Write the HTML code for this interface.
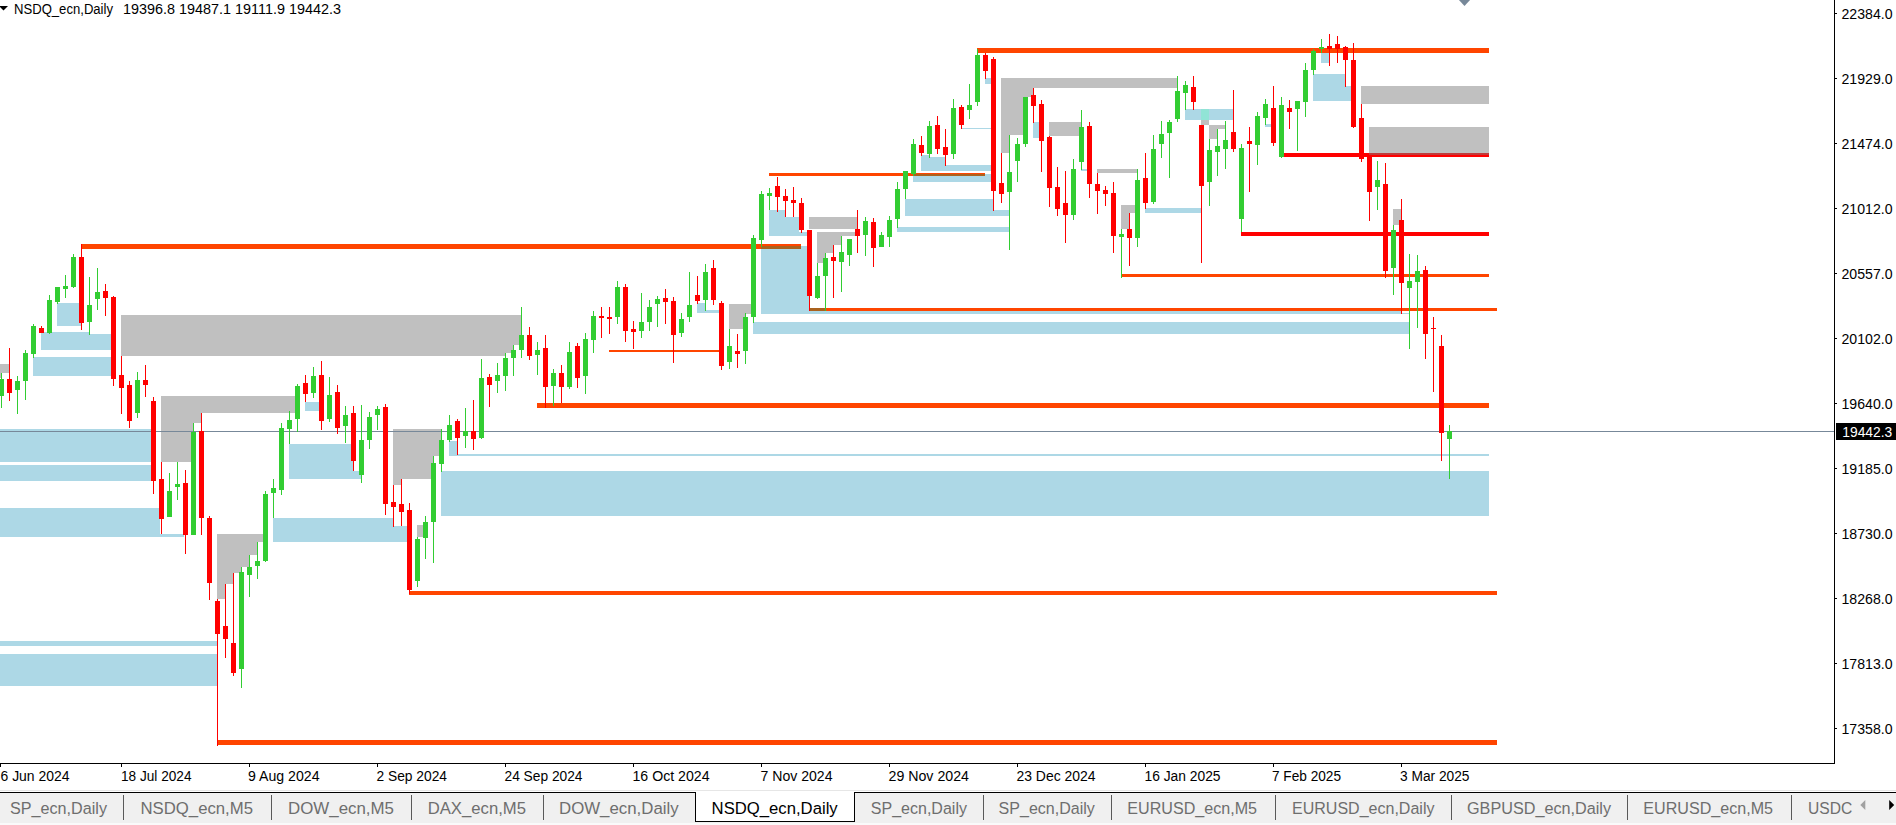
<!DOCTYPE html>
<html><head><meta charset="utf-8"><title>NSDQ_ecn,Daily</title>
<style>
html,body{margin:0;padding:0;background:#fff;overflow:hidden}
svg{display:block}
text{font-family:"Liberation Sans",sans-serif;}
</style></head><body>
<svg width="1896" height="825" viewBox="0 0 1896 825">
<rect x="0" y="0" width="1896" height="825" fill="#fff"/>
<g shape-rendering="crispEdges">
<rect x="57" y="303" width="24" height="23" fill="#ADD8E6"/>
<rect x="41" y="332" width="48" height="18" fill="#ADD8E6"/>
<rect x="89" y="334" width="22" height="16" fill="#ADD8E6"/>
<rect x="33" y="357" width="78" height="19" fill="#ADD8E6"/>
<rect x="0" y="429" width="151" height="33" fill="#ADD8E6"/>
<rect x="0" y="465" width="151" height="16" fill="#ADD8E6"/>
<rect x="0" y="508" width="160" height="29" fill="#ADD8E6"/>
<rect x="160" y="534" width="24" height="3" fill="#ADD8E6"/>
<rect x="0" y="641" width="217" height="5" fill="#ADD8E6"/>
<rect x="0" y="654" width="217" height="32" fill="#ADD8E6"/>
<rect x="273" y="518" width="120" height="24" fill="#ADD8E6"/>
<rect x="393" y="526" width="14" height="16" fill="#ADD8E6"/>
<rect x="305" y="402" width="14" height="9" fill="#ADD8E6"/>
<rect x="289" y="444" width="64" height="35" fill="#ADD8E6"/>
<rect x="353" y="471" width="8" height="8" fill="#ADD8E6"/>
<rect x="449" y="441" width="9" height="15" fill="#ADD8E6"/>
<rect x="458" y="454" width="1031" height="2" fill="#ADD8E6"/>
<rect x="441" y="471" width="1048" height="45" fill="#ADD8E6"/>
<rect x="697" y="303" width="9" height="10" fill="#ADD8E6"/>
<rect x="706" y="310" width="13" height="3" fill="#ADD8E6"/>
<rect x="769" y="210" width="16" height="26" fill="#ADD8E6"/>
<rect x="785" y="217" width="14" height="19" fill="#ADD8E6"/>
<rect x="799" y="232" width="8" height="4" fill="#ADD8E6"/>
<rect x="761" y="246" width="48" height="65" fill="#ADD8E6"/>
<rect x="761" y="311" width="640" height="3" fill="#ADD8E6"/>
<rect x="1401" y="313" width="8" height="1" fill="#ADD8E6"/>
<rect x="753" y="322" width="656" height="12" fill="#ADD8E6"/>
<rect x="985" y="78" width="6" height="6" fill="#ADD8E6"/>
<rect x="1033" y="122" width="6" height="16" fill="#ADD8E6"/>
<rect x="1081" y="169" width="6" height="2" fill="#ADD8E6"/>
<rect x="962" y="128" width="29" height="1" fill="#ADD8E6"/>
<rect x="921" y="155" width="8" height="16" fill="#ADD8E6"/>
<rect x="929" y="157" width="16" height="14" fill="#ADD8E6"/>
<rect x="945" y="165" width="46" height="6" fill="#ADD8E6"/>
<rect x="913" y="174" width="78" height="8" fill="#ADD8E6"/>
<rect x="905" y="199" width="88" height="17" fill="#ADD8E6"/>
<rect x="993" y="210" width="16" height="6" fill="#ADD8E6"/>
<rect x="897" y="227" width="112" height="5" fill="#ADD8E6"/>
<rect x="1145" y="208" width="56" height="5" fill="#ADD8E6"/>
<rect x="1185" y="109" width="48" height="11" fill="#ADD8E6"/>
<rect x="1265" y="124" width="6" height="3" fill="#ADD8E6"/>
<rect x="1313" y="74" width="32" height="27" fill="#ADD8E6"/>
<rect x="1345" y="86" width="6" height="15" fill="#ADD8E6"/>
<rect x="1321" y="53" width="8" height="10" fill="#ADD8E6"/>
<rect x="0" y="364" width="9" height="9" fill="#C0C0C0"/>
<rect x="0" y="373" width="1" height="5" fill="#C0C0C0"/>
<rect x="121" y="315" width="400" height="30" fill="#C0C0C0"/>
<rect x="121" y="345" width="392" height="8" fill="#C0C0C0"/>
<rect x="121" y="353" width="384" height="3" fill="#C0C0C0"/>
<rect x="161" y="396" width="134" height="17" fill="#C0C0C0"/>
<rect x="161" y="413" width="40" height="10" fill="#C0C0C0"/>
<rect x="161" y="423" width="32" height="39" fill="#C0C0C0"/>
<rect x="217" y="534" width="46" height="8" fill="#C0C0C0"/>
<rect x="217" y="542" width="40" height="13" fill="#C0C0C0"/>
<rect x="217" y="555" width="32" height="12" fill="#C0C0C0"/>
<rect x="217" y="567" width="24" height="6" fill="#C0C0C0"/>
<rect x="217" y="573" width="16" height="11" fill="#C0C0C0"/>
<rect x="217" y="584" width="8" height="15" fill="#C0C0C0"/>
<rect x="393" y="429" width="48" height="27" fill="#C0C0C0"/>
<rect x="393" y="456" width="40" height="23" fill="#C0C0C0"/>
<rect x="393" y="479" width="8" height="6" fill="#C0C0C0"/>
<rect x="417" y="525" width="6" height="12" fill="#C0C0C0"/>
<rect x="729" y="304" width="22" height="10" fill="#C0C0C0"/>
<rect x="729" y="314" width="16" height="15" fill="#C0C0C0"/>
<rect x="809" y="217" width="48" height="12" fill="#C0C0C0"/>
<rect x="817" y="232" width="38" height="4" fill="#C0C0C0"/>
<rect x="817" y="236" width="24" height="9" fill="#C0C0C0"/>
<rect x="817" y="245" width="16" height="8" fill="#C0C0C0"/>
<rect x="817" y="253" width="8" height="10" fill="#C0C0C0"/>
<rect x="1001" y="78" width="176" height="10" fill="#C0C0C0"/>
<rect x="1001" y="88" width="32" height="9" fill="#C0C0C0"/>
<rect x="1001" y="97" width="24" height="38" fill="#C0C0C0"/>
<rect x="1001" y="135" width="8" height="18" fill="#C0C0C0"/>
<rect x="1049" y="122" width="32" height="14" fill="#C0C0C0"/>
<rect x="1097" y="169" width="40" height="4" fill="#C0C0C0"/>
<rect x="1121" y="205" width="16" height="8" fill="#C0C0C0"/>
<rect x="1121" y="213" width="8" height="16" fill="#C0C0C0"/>
<rect x="1201" y="120" width="8" height="5" fill="#C0C0C0"/>
<rect x="1209" y="125" width="16" height="4" fill="#C0C0C0"/>
<rect x="1209" y="129" width="8" height="10" fill="#C0C0C0"/>
<rect x="1361" y="86" width="128" height="18" fill="#C0C0C0"/>
<rect x="1369" y="127" width="120" height="26" fill="#C0C0C0"/>
<rect x="1393" y="209" width="8" height="16" fill="#C0C0C0"/>
<rect x="1201" y="109" width="8" height="11" fill="#91E4D6"/>
<rect x="81" y="244" width="720" height="5" fill="#FF4500"/>
<rect x="761" y="246" width="40" height="3" fill="#AA621E"/>
<rect x="977" y="48" width="512" height="5" fill="#FF4500"/>
<rect x="537" y="403" width="952" height="5" fill="#FF4500"/>
<rect x="409" y="591" width="1088" height="4" fill="#FF4500"/>
<rect x="218" y="740" width="1279" height="5" fill="#FF4500"/>
<rect x="769" y="173" width="216" height="3" fill="#FF4500"/>
<rect x="913" y="174" width="72" height="2" fill="#AA621E"/>
<rect x="609" y="350" width="111" height="2" fill="#FF4500"/>
<rect x="809" y="308" width="688" height="3" fill="#FF4500"/>
<rect x="809" y="308" width="16" height="3" fill="#AA621E"/>
<rect x="1122" y="274" width="367" height="3" fill="#FF4500"/>
<rect x="1283" y="153" width="206" height="4" fill="#FF0000"/>
<rect x="1369" y="153" width="120" height="2" fill="#C03A3A"/>
<rect x="1241" y="232" width="248" height="4" fill="#FF0000"/>
<rect x="0" y="431" width="1835" height="1" fill="#778899"/>
<rect x="1" y="373" width="1" height="35" fill="#32CD32"/>
<rect x="-1" y="379" width="5" height="17" fill="#32CD32"/>
<rect x="9" y="348" width="1" height="53" fill="#FF0000"/>
<rect x="7" y="379" width="5" height="14" fill="#FF0000"/>
<rect x="17" y="376" width="1" height="38" fill="#32CD32"/>
<rect x="15" y="381" width="5" height="9" fill="#32CD32"/>
<rect x="25" y="350" width="1" height="50" fill="#32CD32"/>
<rect x="23" y="353" width="5" height="28" fill="#32CD32"/>
<rect x="33" y="324" width="1" height="34" fill="#32CD32"/>
<rect x="31" y="326" width="5" height="28" fill="#32CD32"/>
<rect x="41" y="326" width="1" height="7" fill="#FF0000"/>
<rect x="39" y="328" width="5" height="5" fill="#FF0000"/>
<rect x="49" y="295" width="1" height="39" fill="#32CD32"/>
<rect x="47" y="300" width="5" height="33" fill="#32CD32"/>
<rect x="57" y="287" width="1" height="17" fill="#32CD32"/>
<rect x="55" y="287" width="5" height="15" fill="#32CD32"/>
<rect x="65" y="275" width="1" height="23" fill="#32CD32"/>
<rect x="63" y="286" width="5" height="3" fill="#32CD32"/>
<rect x="73" y="254" width="1" height="34" fill="#32CD32"/>
<rect x="71" y="257" width="5" height="30" fill="#32CD32"/>
<rect x="81" y="244" width="1" height="86" fill="#FF0000"/>
<rect x="79" y="257" width="5" height="66" fill="#FF0000"/>
<rect x="89" y="277" width="1" height="58" fill="#32CD32"/>
<rect x="87" y="305" width="5" height="17" fill="#32CD32"/>
<rect x="97" y="268" width="1" height="42" fill="#32CD32"/>
<rect x="95" y="292" width="5" height="7" fill="#32CD32"/>
<rect x="105" y="284" width="1" height="32" fill="#FF0000"/>
<rect x="103" y="291" width="5" height="7" fill="#FF0000"/>
<rect x="113" y="296" width="1" height="90" fill="#FF0000"/>
<rect x="111" y="297" width="5" height="82" fill="#FF0000"/>
<rect x="121" y="356" width="1" height="58" fill="#FF0000"/>
<rect x="119" y="375" width="5" height="13" fill="#FF0000"/>
<rect x="129" y="381" width="1" height="47" fill="#FF0000"/>
<rect x="127" y="385" width="5" height="36" fill="#FF0000"/>
<rect x="137" y="372" width="1" height="46" fill="#32CD32"/>
<rect x="135" y="380" width="5" height="33" fill="#32CD32"/>
<rect x="145" y="365" width="1" height="32" fill="#FF0000"/>
<rect x="143" y="380" width="5" height="5" fill="#FF0000"/>
<rect x="153" y="397" width="1" height="97" fill="#FF0000"/>
<rect x="151" y="401" width="5" height="80" fill="#FF0000"/>
<rect x="161" y="462" width="1" height="72" fill="#FF0000"/>
<rect x="159" y="479" width="5" height="40" fill="#FF0000"/>
<rect x="169" y="473" width="1" height="44" fill="#32CD32"/>
<rect x="167" y="491" width="5" height="26" fill="#32CD32"/>
<rect x="177" y="462" width="1" height="38" fill="#32CD32"/>
<rect x="175" y="484" width="5" height="3" fill="#32CD32"/>
<rect x="185" y="470" width="1" height="84" fill="#FF0000"/>
<rect x="183" y="483" width="5" height="52" fill="#FF0000"/>
<rect x="193" y="423" width="1" height="112" fill="#32CD32"/>
<rect x="191" y="432" width="5" height="103" fill="#32CD32"/>
<rect x="201" y="413" width="1" height="122" fill="#FF0000"/>
<rect x="199" y="431" width="5" height="87" fill="#FF0000"/>
<rect x="209" y="516" width="1" height="84" fill="#FF0000"/>
<rect x="207" y="518" width="5" height="65" fill="#FF0000"/>
<rect x="217" y="599" width="1" height="147" fill="#FF0000"/>
<rect x="215" y="601" width="5" height="33" fill="#FF0000"/>
<rect x="225" y="584" width="1" height="74" fill="#FF0000"/>
<rect x="223" y="626" width="5" height="13" fill="#FF0000"/>
<rect x="233" y="573" width="1" height="103" fill="#FF0000"/>
<rect x="231" y="643" width="5" height="30" fill="#FF0000"/>
<rect x="241" y="567" width="1" height="121" fill="#32CD32"/>
<rect x="239" y="572" width="5" height="97" fill="#32CD32"/>
<rect x="249" y="555" width="1" height="42" fill="#32CD32"/>
<rect x="247" y="567" width="5" height="8" fill="#32CD32"/>
<rect x="257" y="542" width="1" height="37" fill="#32CD32"/>
<rect x="255" y="561" width="5" height="5" fill="#32CD32"/>
<rect x="265" y="491" width="1" height="71" fill="#32CD32"/>
<rect x="263" y="494" width="5" height="67" fill="#32CD32"/>
<rect x="273" y="479" width="1" height="39" fill="#32CD32"/>
<rect x="271" y="488" width="5" height="5" fill="#32CD32"/>
<rect x="281" y="423" width="1" height="72" fill="#32CD32"/>
<rect x="279" y="428" width="5" height="62" fill="#32CD32"/>
<rect x="289" y="411" width="1" height="33" fill="#32CD32"/>
<rect x="287" y="420" width="5" height="9" fill="#32CD32"/>
<rect x="297" y="384" width="1" height="48" fill="#32CD32"/>
<rect x="295" y="386" width="5" height="33" fill="#32CD32"/>
<rect x="305" y="375" width="1" height="27" fill="#FF0000"/>
<rect x="303" y="383" width="5" height="11" fill="#FF0000"/>
<rect x="313" y="367" width="1" height="31" fill="#32CD32"/>
<rect x="311" y="376" width="5" height="17" fill="#32CD32"/>
<rect x="321" y="361" width="1" height="69" fill="#FF0000"/>
<rect x="319" y="375" width="5" height="46" fill="#FF0000"/>
<rect x="329" y="377" width="1" height="45" fill="#32CD32"/>
<rect x="327" y="395" width="5" height="24" fill="#32CD32"/>
<rect x="337" y="385" width="1" height="49" fill="#FF0000"/>
<rect x="335" y="392" width="5" height="36" fill="#FF0000"/>
<rect x="345" y="406" width="1" height="37" fill="#32CD32"/>
<rect x="343" y="415" width="5" height="11" fill="#32CD32"/>
<rect x="353" y="406" width="1" height="65" fill="#FF0000"/>
<rect x="351" y="413" width="5" height="48" fill="#FF0000"/>
<rect x="361" y="405" width="1" height="78" fill="#32CD32"/>
<rect x="359" y="440" width="5" height="35" fill="#32CD32"/>
<rect x="369" y="412" width="1" height="37" fill="#32CD32"/>
<rect x="367" y="417" width="5" height="23" fill="#32CD32"/>
<rect x="377" y="406" width="1" height="24" fill="#32CD32"/>
<rect x="375" y="409" width="5" height="6" fill="#32CD32"/>
<rect x="385" y="404" width="1" height="111" fill="#FF0000"/>
<rect x="383" y="407" width="5" height="97" fill="#FF0000"/>
<rect x="393" y="485" width="1" height="42" fill="#FF0000"/>
<rect x="391" y="502" width="5" height="5" fill="#FF0000"/>
<rect x="401" y="479" width="1" height="47" fill="#FF0000"/>
<rect x="399" y="504" width="5" height="8" fill="#FF0000"/>
<rect x="409" y="503" width="1" height="91" fill="#FF0000"/>
<rect x="407" y="510" width="5" height="80" fill="#FF0000"/>
<rect x="417" y="537" width="1" height="50" fill="#32CD32"/>
<rect x="415" y="539" width="5" height="42" fill="#32CD32"/>
<rect x="425" y="516" width="1" height="43" fill="#32CD32"/>
<rect x="423" y="522" width="5" height="16" fill="#32CD32"/>
<rect x="433" y="456" width="1" height="107" fill="#32CD32"/>
<rect x="431" y="463" width="5" height="59" fill="#32CD32"/>
<rect x="441" y="429" width="1" height="43" fill="#32CD32"/>
<rect x="439" y="440" width="5" height="24" fill="#32CD32"/>
<rect x="449" y="415" width="1" height="27" fill="#32CD32"/>
<rect x="447" y="425" width="5" height="15" fill="#32CD32"/>
<rect x="457" y="419" width="1" height="36" fill="#FF0000"/>
<rect x="455" y="421" width="5" height="17" fill="#FF0000"/>
<rect x="465" y="408" width="1" height="40" fill="#32CD32"/>
<rect x="463" y="431" width="5" height="5" fill="#32CD32"/>
<rect x="473" y="400" width="1" height="50" fill="#FF0000"/>
<rect x="471" y="431" width="5" height="8" fill="#FF0000"/>
<rect x="481" y="359" width="1" height="80" fill="#32CD32"/>
<rect x="479" y="378" width="5" height="60" fill="#32CD32"/>
<rect x="489" y="374" width="1" height="33" fill="#FF0000"/>
<rect x="487" y="377" width="5" height="8" fill="#FF0000"/>
<rect x="497" y="363" width="1" height="30" fill="#32CD32"/>
<rect x="495" y="375" width="5" height="6" fill="#32CD32"/>
<rect x="505" y="353" width="1" height="38" fill="#32CD32"/>
<rect x="503" y="358" width="5" height="18" fill="#32CD32"/>
<rect x="513" y="345" width="1" height="31" fill="#32CD32"/>
<rect x="511" y="350" width="5" height="8" fill="#32CD32"/>
<rect x="521" y="307" width="1" height="51" fill="#32CD32"/>
<rect x="519" y="335" width="5" height="15" fill="#32CD32"/>
<rect x="529" y="327" width="1" height="33" fill="#FF0000"/>
<rect x="527" y="335" width="5" height="21" fill="#FF0000"/>
<rect x="537" y="342" width="1" height="33" fill="#32CD32"/>
<rect x="535" y="350" width="5" height="5" fill="#32CD32"/>
<rect x="545" y="335" width="1" height="73" fill="#FF0000"/>
<rect x="543" y="348" width="5" height="39" fill="#FF0000"/>
<rect x="553" y="369" width="1" height="37" fill="#32CD32"/>
<rect x="551" y="373" width="5" height="13" fill="#32CD32"/>
<rect x="561" y="365" width="1" height="38" fill="#FF0000"/>
<rect x="559" y="373" width="5" height="14" fill="#FF0000"/>
<rect x="569" y="342" width="1" height="47" fill="#32CD32"/>
<rect x="567" y="352" width="5" height="35" fill="#32CD32"/>
<rect x="577" y="343" width="1" height="45" fill="#FF0000"/>
<rect x="575" y="346" width="5" height="32" fill="#FF0000"/>
<rect x="585" y="333" width="1" height="61" fill="#32CD32"/>
<rect x="583" y="339" width="5" height="37" fill="#32CD32"/>
<rect x="593" y="311" width="1" height="42" fill="#32CD32"/>
<rect x="591" y="316" width="5" height="24" fill="#32CD32"/>
<rect x="601" y="307" width="1" height="31" fill="#FF0000"/>
<rect x="599" y="316" width="5" height="2" fill="#FF0000"/>
<rect x="609" y="307" width="1" height="27" fill="#FF0000"/>
<rect x="607" y="317" width="5" height="2" fill="#FF0000"/>
<rect x="617" y="281" width="1" height="43" fill="#32CD32"/>
<rect x="615" y="287" width="5" height="30" fill="#32CD32"/>
<rect x="625" y="284" width="1" height="58" fill="#FF0000"/>
<rect x="623" y="287" width="5" height="44" fill="#FF0000"/>
<rect x="633" y="321" width="1" height="28" fill="#FF0000"/>
<rect x="631" y="329" width="5" height="3" fill="#FF0000"/>
<rect x="641" y="293" width="1" height="45" fill="#32CD32"/>
<rect x="639" y="322" width="5" height="9" fill="#32CD32"/>
<rect x="649" y="300" width="1" height="31" fill="#32CD32"/>
<rect x="647" y="307" width="5" height="15" fill="#32CD32"/>
<rect x="657" y="296" width="1" height="31" fill="#32CD32"/>
<rect x="655" y="299" width="5" height="5" fill="#32CD32"/>
<rect x="665" y="289" width="1" height="35" fill="#FF0000"/>
<rect x="663" y="298" width="5" height="4" fill="#FF0000"/>
<rect x="673" y="297" width="1" height="66" fill="#FF0000"/>
<rect x="671" y="301" width="5" height="34" fill="#FF0000"/>
<rect x="681" y="313" width="1" height="24" fill="#32CD32"/>
<rect x="679" y="319" width="5" height="14" fill="#32CD32"/>
<rect x="689" y="272" width="1" height="50" fill="#32CD32"/>
<rect x="687" y="305" width="5" height="12" fill="#32CD32"/>
<rect x="697" y="276" width="1" height="28" fill="#FF0000"/>
<rect x="695" y="295" width="5" height="6" fill="#FF0000"/>
<rect x="705" y="264" width="1" height="47" fill="#32CD32"/>
<rect x="703" y="272" width="5" height="28" fill="#32CD32"/>
<rect x="713" y="260" width="1" height="45" fill="#FF0000"/>
<rect x="711" y="268" width="5" height="32" fill="#FF0000"/>
<rect x="721" y="301" width="1" height="69" fill="#FF0000"/>
<rect x="719" y="303" width="5" height="63" fill="#FF0000"/>
<rect x="729" y="329" width="1" height="40" fill="#32CD32"/>
<rect x="727" y="346" width="5" height="16" fill="#32CD32"/>
<rect x="737" y="334" width="1" height="34" fill="#FF0000"/>
<rect x="735" y="351" width="5" height="3" fill="#FF0000"/>
<rect x="745" y="313" width="1" height="51" fill="#32CD32"/>
<rect x="743" y="317" width="5" height="34" fill="#32CD32"/>
<rect x="753" y="235" width="1" height="88" fill="#32CD32"/>
<rect x="751" y="238" width="5" height="79" fill="#32CD32"/>
<rect x="761" y="191" width="1" height="56" fill="#32CD32"/>
<rect x="759" y="194" width="5" height="46" fill="#32CD32"/>
<rect x="769" y="188" width="1" height="22" fill="#32CD32"/>
<rect x="767" y="193" width="5" height="3" fill="#32CD32"/>
<rect x="777" y="177" width="1" height="35" fill="#FF0000"/>
<rect x="775" y="186" width="5" height="11" fill="#FF0000"/>
<rect x="785" y="189" width="1" height="28" fill="#FF0000"/>
<rect x="783" y="196" width="5" height="5" fill="#FF0000"/>
<rect x="793" y="187" width="1" height="30" fill="#FF0000"/>
<rect x="791" y="200" width="5" height="3" fill="#FF0000"/>
<rect x="801" y="198" width="1" height="35" fill="#FF0000"/>
<rect x="799" y="203" width="5" height="27" fill="#FF0000"/>
<rect x="809" y="230" width="1" height="81" fill="#FF0000"/>
<rect x="807" y="230" width="5" height="66" fill="#FF0000"/>
<rect x="817" y="263" width="1" height="36" fill="#32CD32"/>
<rect x="815" y="276" width="5" height="22" fill="#32CD32"/>
<rect x="825" y="253" width="1" height="58" fill="#32CD32"/>
<rect x="823" y="258" width="5" height="18" fill="#32CD32"/>
<rect x="833" y="245" width="1" height="53" fill="#FF0000"/>
<rect x="831" y="257" width="5" height="4" fill="#FF0000"/>
<rect x="841" y="236" width="1" height="56" fill="#32CD32"/>
<rect x="839" y="252" width="5" height="10" fill="#32CD32"/>
<rect x="849" y="239" width="1" height="27" fill="#32CD32"/>
<rect x="847" y="239" width="5" height="16" fill="#32CD32"/>
<rect x="857" y="210" width="1" height="43" fill="#FF0000"/>
<rect x="855" y="229" width="5" height="7" fill="#FF0000"/>
<rect x="865" y="217" width="1" height="39" fill="#32CD32"/>
<rect x="863" y="221" width="5" height="14" fill="#32CD32"/>
<rect x="873" y="218" width="1" height="49" fill="#FF0000"/>
<rect x="871" y="222" width="5" height="26" fill="#FF0000"/>
<rect x="881" y="232" width="1" height="15" fill="#32CD32"/>
<rect x="879" y="235" width="5" height="12" fill="#32CD32"/>
<rect x="889" y="216" width="1" height="31" fill="#32CD32"/>
<rect x="887" y="220" width="5" height="17" fill="#32CD32"/>
<rect x="897" y="182" width="1" height="46" fill="#32CD32"/>
<rect x="895" y="189" width="5" height="30" fill="#32CD32"/>
<rect x="905" y="171" width="1" height="28" fill="#32CD32"/>
<rect x="903" y="171" width="5" height="18" fill="#32CD32"/>
<rect x="913" y="139" width="1" height="37" fill="#32CD32"/>
<rect x="911" y="144" width="5" height="30" fill="#32CD32"/>
<rect x="921" y="136" width="1" height="20" fill="#FF0000"/>
<rect x="919" y="145" width="5" height="8" fill="#FF0000"/>
<rect x="929" y="121" width="1" height="37" fill="#32CD32"/>
<rect x="927" y="126" width="5" height="28" fill="#32CD32"/>
<rect x="937" y="116" width="1" height="38" fill="#FF0000"/>
<rect x="935" y="125" width="5" height="24" fill="#FF0000"/>
<rect x="945" y="129" width="1" height="37" fill="#FF0000"/>
<rect x="943" y="147" width="5" height="8" fill="#FF0000"/>
<rect x="953" y="99" width="1" height="60" fill="#32CD32"/>
<rect x="951" y="108" width="5" height="46" fill="#32CD32"/>
<rect x="961" y="105" width="1" height="24" fill="#FF0000"/>
<rect x="959" y="107" width="5" height="18" fill="#FF0000"/>
<rect x="969" y="84" width="1" height="35" fill="#32CD32"/>
<rect x="967" y="105" width="5" height="5" fill="#32CD32"/>
<rect x="977" y="49" width="1" height="57" fill="#32CD32"/>
<rect x="975" y="55" width="5" height="47" fill="#32CD32"/>
<rect x="985" y="53" width="1" height="26" fill="#FF0000"/>
<rect x="983" y="55" width="5" height="16" fill="#FF0000"/>
<rect x="993" y="57" width="1" height="154" fill="#FF0000"/>
<rect x="991" y="59" width="5" height="132" fill="#FF0000"/>
<rect x="1001" y="153" width="1" height="50" fill="#FF0000"/>
<rect x="999" y="183" width="5" height="11" fill="#FF0000"/>
<rect x="1009" y="135" width="1" height="115" fill="#32CD32"/>
<rect x="1007" y="172" width="5" height="20" fill="#32CD32"/>
<rect x="1017" y="138" width="1" height="44" fill="#32CD32"/>
<rect x="1015" y="144" width="5" height="17" fill="#32CD32"/>
<rect x="1025" y="97" width="1" height="50" fill="#32CD32"/>
<rect x="1023" y="97" width="5" height="47" fill="#32CD32"/>
<rect x="1033" y="88" width="1" height="35" fill="#FF0000"/>
<rect x="1031" y="95" width="5" height="11" fill="#FF0000"/>
<rect x="1041" y="100" width="1" height="72" fill="#FF0000"/>
<rect x="1039" y="104" width="5" height="37" fill="#FF0000"/>
<rect x="1049" y="136" width="1" height="71" fill="#FF0000"/>
<rect x="1047" y="137" width="5" height="51" fill="#FF0000"/>
<rect x="1057" y="167" width="1" height="49" fill="#FF0000"/>
<rect x="1055" y="187" width="5" height="22" fill="#FF0000"/>
<rect x="1065" y="171" width="1" height="72" fill="#FF0000"/>
<rect x="1063" y="203" width="5" height="12" fill="#FF0000"/>
<rect x="1073" y="159" width="1" height="61" fill="#32CD32"/>
<rect x="1071" y="169" width="5" height="46" fill="#32CD32"/>
<rect x="1081" y="110" width="1" height="60" fill="#32CD32"/>
<rect x="1079" y="127" width="5" height="35" fill="#32CD32"/>
<rect x="1089" y="122" width="1" height="76" fill="#FF0000"/>
<rect x="1087" y="126" width="5" height="58" fill="#FF0000"/>
<rect x="1097" y="173" width="1" height="41" fill="#FF0000"/>
<rect x="1095" y="184" width="5" height="7" fill="#FF0000"/>
<rect x="1105" y="186" width="1" height="20" fill="#FF0000"/>
<rect x="1103" y="190" width="5" height="4" fill="#FF0000"/>
<rect x="1113" y="182" width="1" height="71" fill="#FF0000"/>
<rect x="1111" y="193" width="5" height="43" fill="#FF0000"/>
<rect x="1121" y="229" width="1" height="49" fill="#32CD32"/>
<rect x="1119" y="234" width="5" height="3" fill="#32CD32"/>
<rect x="1129" y="213" width="1" height="53" fill="#FF0000"/>
<rect x="1127" y="229" width="5" height="9" fill="#FF0000"/>
<rect x="1137" y="169" width="1" height="78" fill="#32CD32"/>
<rect x="1135" y="180" width="5" height="58" fill="#32CD32"/>
<rect x="1145" y="153" width="1" height="56" fill="#FF0000"/>
<rect x="1143" y="178" width="5" height="25" fill="#FF0000"/>
<rect x="1153" y="135" width="1" height="69" fill="#32CD32"/>
<rect x="1151" y="149" width="5" height="53" fill="#32CD32"/>
<rect x="1161" y="121" width="1" height="37" fill="#32CD32"/>
<rect x="1159" y="134" width="5" height="10" fill="#32CD32"/>
<rect x="1169" y="120" width="1" height="58" fill="#32CD32"/>
<rect x="1167" y="122" width="5" height="11" fill="#32CD32"/>
<rect x="1177" y="76" width="1" height="46" fill="#32CD32"/>
<rect x="1175" y="91" width="5" height="28" fill="#32CD32"/>
<rect x="1185" y="81" width="1" height="29" fill="#32CD32"/>
<rect x="1183" y="85" width="5" height="8" fill="#32CD32"/>
<rect x="1193" y="76" width="1" height="34" fill="#FF0000"/>
<rect x="1191" y="87" width="5" height="15" fill="#FF0000"/>
<rect x="1201" y="125" width="1" height="138" fill="#FF0000"/>
<rect x="1199" y="125" width="5" height="61" fill="#FF0000"/>
<rect x="1209" y="139" width="1" height="67" fill="#32CD32"/>
<rect x="1207" y="150" width="5" height="32" fill="#32CD32"/>
<rect x="1217" y="129" width="1" height="47" fill="#32CD32"/>
<rect x="1215" y="146" width="5" height="6" fill="#32CD32"/>
<rect x="1225" y="121" width="1" height="48" fill="#32CD32"/>
<rect x="1223" y="140" width="5" height="9" fill="#32CD32"/>
<rect x="1233" y="90" width="1" height="62" fill="#FF0000"/>
<rect x="1231" y="132" width="5" height="17" fill="#FF0000"/>
<rect x="1241" y="144" width="1" height="88" fill="#32CD32"/>
<rect x="1239" y="148" width="5" height="71" fill="#32CD32"/>
<rect x="1249" y="127" width="1" height="65" fill="#FF0000"/>
<rect x="1247" y="141" width="5" height="3" fill="#FF0000"/>
<rect x="1257" y="112" width="1" height="53" fill="#32CD32"/>
<rect x="1255" y="116" width="5" height="29" fill="#32CD32"/>
<rect x="1265" y="99" width="1" height="26" fill="#32CD32"/>
<rect x="1263" y="104" width="5" height="14" fill="#32CD32"/>
<rect x="1273" y="86" width="1" height="60" fill="#FF0000"/>
<rect x="1271" y="108" width="5" height="35" fill="#FF0000"/>
<rect x="1281" y="97" width="1" height="61" fill="#32CD32"/>
<rect x="1279" y="105" width="5" height="52" fill="#32CD32"/>
<rect x="1289" y="100" width="1" height="29" fill="#FF0000"/>
<rect x="1287" y="108" width="5" height="4" fill="#FF0000"/>
<rect x="1297" y="101" width="1" height="50" fill="#32CD32"/>
<rect x="1295" y="101" width="5" height="8" fill="#32CD32"/>
<rect x="1305" y="63" width="1" height="54" fill="#32CD32"/>
<rect x="1303" y="70" width="5" height="32" fill="#32CD32"/>
<rect x="1313" y="49" width="1" height="26" fill="#32CD32"/>
<rect x="1311" y="51" width="5" height="19" fill="#32CD32"/>
<rect x="1321" y="39" width="1" height="14" fill="#32CD32"/>
<rect x="1319" y="47" width="5" height="2" fill="#32CD32"/>
<rect x="1329" y="34" width="1" height="32" fill="#FF0000"/>
<rect x="1327" y="46" width="5" height="3" fill="#FF0000"/>
<rect x="1337" y="36" width="1" height="27" fill="#FF0000"/>
<rect x="1335" y="44" width="5" height="5" fill="#FF0000"/>
<rect x="1345" y="46" width="1" height="41" fill="#FF0000"/>
<rect x="1343" y="47" width="5" height="13" fill="#FF0000"/>
<rect x="1353" y="43" width="1" height="85" fill="#FF0000"/>
<rect x="1351" y="60" width="5" height="67" fill="#FF0000"/>
<rect x="1361" y="104" width="1" height="58" fill="#FF0000"/>
<rect x="1359" y="118" width="5" height="41" fill="#FF0000"/>
<rect x="1369" y="157" width="1" height="64" fill="#FF0000"/>
<rect x="1367" y="157" width="5" height="35" fill="#FF0000"/>
<rect x="1377" y="161" width="1" height="49" fill="#32CD32"/>
<rect x="1375" y="180" width="5" height="7" fill="#32CD32"/>
<rect x="1385" y="163" width="1" height="115" fill="#FF0000"/>
<rect x="1383" y="184" width="5" height="87" fill="#FF0000"/>
<rect x="1393" y="225" width="1" height="70" fill="#32CD32"/>
<rect x="1391" y="230" width="5" height="38" fill="#32CD32"/>
<rect x="1401" y="199" width="1" height="115" fill="#FF0000"/>
<rect x="1399" y="220" width="5" height="63" fill="#FF0000"/>
<rect x="1409" y="254" width="1" height="95" fill="#32CD32"/>
<rect x="1407" y="281" width="5" height="7" fill="#32CD32"/>
<rect x="1417" y="255" width="1" height="73" fill="#32CD32"/>
<rect x="1415" y="271" width="5" height="11" fill="#32CD32"/>
<rect x="1425" y="266" width="1" height="93" fill="#FF0000"/>
<rect x="1423" y="270" width="5" height="64" fill="#FF0000"/>
<rect x="1433" y="317" width="1" height="75" fill="#FF0000"/>
<rect x="1431" y="328" width="5" height="1" fill="#FF0000"/>
<rect x="1441" y="335" width="1" height="126" fill="#FF0000"/>
<rect x="1439" y="346" width="5" height="87" fill="#FF0000"/>
<rect x="1449" y="425" width="1" height="54" fill="#32CD32"/>
<rect x="1447" y="431" width="5" height="8" fill="#32CD32"/>
<rect x="1834" y="0" width="1" height="764" fill="#000"/>
<rect x="0" y="763" width="1835" height="1" fill="#000"/>
<rect x="1835" y="13" width="2" height="1" fill="#000"/>
<rect x="1835" y="78" width="2" height="1" fill="#000"/>
<rect x="1835" y="143" width="2" height="1" fill="#000"/>
<rect x="1835" y="208" width="2" height="1" fill="#000"/>
<rect x="1835" y="273" width="2" height="1" fill="#000"/>
<rect x="1835" y="338" width="2" height="1" fill="#000"/>
<rect x="1835" y="403" width="2" height="1" fill="#000"/>
<rect x="1835" y="468" width="2" height="1" fill="#000"/>
<rect x="1835" y="533" width="2" height="1" fill="#000"/>
<rect x="1835" y="598" width="2" height="1" fill="#000"/>
<rect x="1835" y="663" width="2" height="1" fill="#000"/>
<rect x="1835" y="728" width="2" height="1" fill="#000"/>
<rect x="121" y="764" width="1" height="3" fill="#000"/>
<rect x="249" y="764" width="1" height="3" fill="#000"/>
<rect x="377" y="764" width="1" height="3" fill="#000"/>
<rect x="505" y="764" width="1" height="3" fill="#000"/>
<rect x="633" y="764" width="1" height="3" fill="#000"/>
<rect x="761" y="764" width="1" height="3" fill="#000"/>
<rect x="889" y="764" width="1" height="3" fill="#000"/>
<rect x="1017" y="764" width="1" height="3" fill="#000"/>
<rect x="1145" y="764" width="1" height="3" fill="#000"/>
<rect x="1273" y="764" width="1" height="3" fill="#000"/>
<rect x="1401" y="764" width="1" height="3" fill="#000"/>
<rect x="0" y="764" width="1" height="3" fill="#000"/>
<rect x="1836" y="423" width="60" height="17" fill="#000"/>
</g>
<text x="1841.5" y="18.5" font-size="14" textLength="51" lengthAdjust="spacingAndGlyphs">22384.0</text>
<text x="1841.5" y="83.5" font-size="14" textLength="51" lengthAdjust="spacingAndGlyphs">21929.0</text>
<text x="1841.5" y="148.5" font-size="14" textLength="51" lengthAdjust="spacingAndGlyphs">21474.0</text>
<text x="1841.5" y="213.5" font-size="14" textLength="51" lengthAdjust="spacingAndGlyphs">21012.0</text>
<text x="1841.5" y="278.5" font-size="14" textLength="51" lengthAdjust="spacingAndGlyphs">20557.0</text>
<text x="1841.5" y="343.5" font-size="14" textLength="51" lengthAdjust="spacingAndGlyphs">20102.0</text>
<text x="1841.5" y="408.5" font-size="14" textLength="51" lengthAdjust="spacingAndGlyphs">19640.0</text>
<text x="1841.5" y="473.5" font-size="14" textLength="51" lengthAdjust="spacingAndGlyphs">19185.0</text>
<text x="1841.5" y="538.5" font-size="14" textLength="51" lengthAdjust="spacingAndGlyphs">18730.0</text>
<text x="1841.5" y="603.5" font-size="14" textLength="51" lengthAdjust="spacingAndGlyphs">18268.0</text>
<text x="1841.5" y="668.5" font-size="14" textLength="51" lengthAdjust="spacingAndGlyphs">17813.0</text>
<text x="1841.5" y="733.5" font-size="14" textLength="51" lengthAdjust="spacingAndGlyphs">17358.0</text>
<text x="1842.3" y="436.5" font-size="14" fill="#fff" textLength="50" lengthAdjust="spacingAndGlyphs">19442.3</text>
<text x="0.5" y="780.5" font-size="14" textLength="69.0" lengthAdjust="spacingAndGlyphs">6 Jun 2024</text>
<text x="121" y="780.5" font-size="14" textLength="70.5" lengthAdjust="spacingAndGlyphs">18 Jul 2024</text>
<text x="248" y="780.5" font-size="14" textLength="71.5" lengthAdjust="spacingAndGlyphs">9 Aug 2024</text>
<text x="376.5" y="780.5" font-size="14" textLength="70.5" lengthAdjust="spacingAndGlyphs">2 Sep 2024</text>
<text x="504.5" y="780.5" font-size="14" textLength="78.0" lengthAdjust="spacingAndGlyphs">24 Sep 2024</text>
<text x="632.5" y="780.5" font-size="14" textLength="77.0" lengthAdjust="spacingAndGlyphs">16 Oct 2024</text>
<text x="760.5" y="780.5" font-size="14" textLength="72.0" lengthAdjust="spacingAndGlyphs">7 Nov 2024</text>
<text x="888.5" y="780.5" font-size="14" textLength="80.5" lengthAdjust="spacingAndGlyphs">29 Nov 2024</text>
<text x="1016.5" y="780.5" font-size="14" textLength="79.0" lengthAdjust="spacingAndGlyphs">23 Dec 2024</text>
<text x="1144.5" y="780.5" font-size="14" textLength="76.0" lengthAdjust="spacingAndGlyphs">16 Jan 2025</text>
<text x="1272" y="780.5" font-size="14" textLength="69" lengthAdjust="spacingAndGlyphs">7 Feb 2025</text>
<text x="1400" y="780.5" font-size="14" textLength="69.5" lengthAdjust="spacingAndGlyphs">3 Mar 2025</text>
<polygon points="-1,6 8,6 3.5,10.5" fill="#000"/>
<text x="14" y="13.7" font-size="14" textLength="99" lengthAdjust="spacingAndGlyphs">NSDQ_ecn,Daily</text>
<text x="123" y="13.7" font-size="14" textLength="218" lengthAdjust="spacingAndGlyphs">19396.8 19487.1 19111.9 19442.3</text>
<polygon points="1458.5,-0.5 1470.5,-0.5 1464.5,6" fill="#778899"/>
<g shape-rendering="crispEdges">
<rect x="0" y="790" width="1896" height="1" fill="#e6e6e6"/>
<rect x="0" y="793" width="1896" height="30" fill="#f0f0f0"/>
<rect x="0" y="823" width="1896" height="2" fill="#fafafa"/>
<rect x="0" y="792" width="1896" height="1" fill="#000"/>
<rect x="695" y="792" width="160" height="30" fill="#000"/>
<rect x="696" y="792" width="158" height="29" fill="#fff"/>
<rect x="123" y="795" width="1" height="25" fill="#5a5a5a"/>
<rect x="271" y="795" width="1" height="25" fill="#5a5a5a"/>
<rect x="411" y="795" width="1" height="25" fill="#5a5a5a"/>
<rect x="543" y="795" width="1" height="25" fill="#5a5a5a"/>
<rect x="983" y="795" width="1" height="25" fill="#5a5a5a"/>
<rect x="1111" y="795" width="1" height="25" fill="#5a5a5a"/>
<rect x="1275" y="795" width="1" height="25" fill="#5a5a5a"/>
<rect x="1451" y="795" width="1" height="25" fill="#5a5a5a"/>
<rect x="1627" y="795" width="1" height="25" fill="#5a5a5a"/>
<rect x="1791" y="795" width="1" height="25" fill="#5a5a5a"/>
</g>
<text x="10" y="813.7" font-size="16.7" fill="#6e6e6e" textLength="97" lengthAdjust="spacingAndGlyphs">SP_ecn,Daily</text>
<text x="140.5" y="813.7" font-size="16.7" fill="#6e6e6e" textLength="112.5" lengthAdjust="spacingAndGlyphs">NSDQ_ecn,M5</text>
<text x="288" y="813.7" font-size="16.7" fill="#6e6e6e" textLength="106" lengthAdjust="spacingAndGlyphs">DOW_ecn,M5</text>
<text x="427.7" y="813.7" font-size="16.7" fill="#6e6e6e" textLength="98.3" lengthAdjust="spacingAndGlyphs">DAX_ecn,M5</text>
<text x="559" y="813.7" font-size="16.7" fill="#6e6e6e" textLength="119.7" lengthAdjust="spacingAndGlyphs">DOW_ecn,Daily</text>
<text x="711.6" y="813.7" font-size="16.7" fill="#000" textLength="126.1" lengthAdjust="spacingAndGlyphs">NSDQ_ecn,Daily</text>
<text x="870.8" y="813.7" font-size="16.7" fill="#6e6e6e" textLength="96.2" lengthAdjust="spacingAndGlyphs">SP_ecn,Daily</text>
<text x="998.6" y="813.7" font-size="16.7" fill="#6e6e6e" textLength="96.2" lengthAdjust="spacingAndGlyphs">SP_ecn,Daily</text>
<text x="1127.3" y="813.7" font-size="16.7" fill="#6e6e6e" textLength="129.7" lengthAdjust="spacingAndGlyphs">EURUSD_ecn,M5</text>
<text x="1292" y="813.7" font-size="16.7" fill="#6e6e6e" textLength="142.5" lengthAdjust="spacingAndGlyphs">EURUSD_ecn,Daily</text>
<text x="1467" y="813.7" font-size="16.7" fill="#6e6e6e" textLength="144" lengthAdjust="spacingAndGlyphs">GBPUSD_ecn,Daily</text>
<text x="1643.3" y="813.7" font-size="16.7" fill="#6e6e6e" textLength="129.7" lengthAdjust="spacingAndGlyphs">EURUSD_ecn,M5</text>
<text x="1808" y="813.7" font-size="16.7" fill="#6e6e6e" textLength="44.3" lengthAdjust="spacingAndGlyphs">USDC</text>
<polygon points="1860.3,805 1865.3,800 1865.3,810" fill="#a0a0a0"/>
<polygon points="1894.2,805 1889.2,800 1889.2,810" fill="#000"/>
</svg>
</body></html>
